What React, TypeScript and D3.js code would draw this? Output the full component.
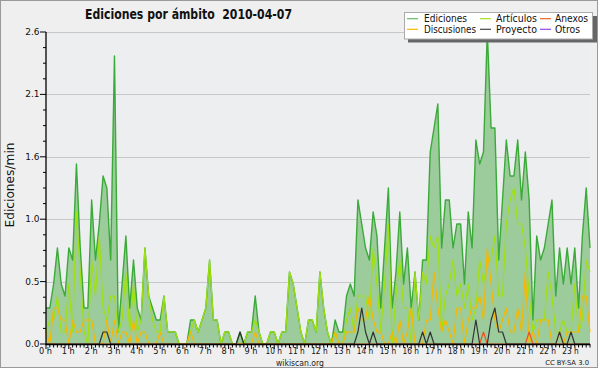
import React from 'react';
import * as d3 from 'd3';

// 10-minute bins, 0:00 .. 23:50 (edits per minute)
const ediciones = [
  0.3,0.3,0.5,0.8,0.5,0.4, 0.8,0.7,1.5,0.8,0.3,0.3,
  1.2,0.7,1.0,1.4,1.3,0.7, 2.4,0.1,0.5,0.9,0.3,0.7,
  0.3,0.2,0.8,0.4,0.3,0.2, 0.2,0.4,0.1,0.1,0.1,0.0,
  0.0,0.0,0.2,0.2,0.1,0.2, 0.3,0.7,0.2,0.2,0.0,0.1,
  0.1,0.0,0.0,0.1,0.0,0.1, 0.1,0.4,0.1,0.0,0.0,0.1,
  0.1,0.0,0.1,0.1,0.6,0.5, 0.3,0.1,0.0,0.2,0.2,0.1,
  0.6,0.3,0.1,0.0,0.2,0.1, 0.1,0.4,0.5,0.4,1.2,1.0,
  0.8,0.7,1.1,0.9,0.3,0.8, 1.3,0.3,0.6,1.1,0.5,0.8,
  0.3,0.6,0.2,0.7,0.7,1.6, 1.8,2.0,0.8,1.2,1.2,0.8,
  1.0,1.0,0.5,1.1,0.8,1.7, 1.5,1.6,2.6,1.8,1.8,0.7,
  1.2,1.7,1.4,1.4,1.7,1.2, 1.6,1.2,0.2,0.9,0.7,0.8,
  1.0,1.2,0.4,0.8,0.5,0.8, 0.5,0.8,0.3,0.9,1.3,0.8,
];
const articulos = [
  0.1,0.2,0.2,0.4,0.1,0.1, 0.5,0.1,1.1,0.6,0.1,0.0,
  0.7,0.4,0.9,0.3,0.2,0.4, 0.4,0.1,0.2,0.6,0.1,0.5,
  0.1,0.2,0.8,0.4,0.2,0.1, 0.1,0.4,0.1,0.1,0.1,0.0,
  0.0,0.0,0.1,0.2,0.1,0.2, 0.3,0.7,0.2,0.2,0.0,0.1,
  0.1,0.0,0.0,0.0,0.0,0.1, 0.1,0.2,0.1,0.0,0.0,0.1,
  0.1,0.0,0.1,0.1,0.6,0.5, 0.3,0.1,0.0,0.2,0.2,0.1,
  0.6,0.3,0.1,0.0,0.1,0.0, 0.0,0.2,0.3,0.1,0.4,0.4,
  0.4,0.2,0.8,0.5,0.1,0.5, 1.0,0.0,0.4,0.7,0.3,0.3,
  0.0,0.6,0.2,0.6,0.5,0.9, 0.8,0.9,0.1,0.4,0.5,0.7,
  0.4,0.5,0.3,0.5,0.2,0.3, 0.7,0.5,0.7,0.7,0.9,0.4,
  0.4,1.0,1.2,1.3,1.0,1.0, 0.8,0.4,0.1,0.2,0.2,0.2,
  0.6,0.4,0.1,0.1,0.2,0.1, 0.1,0.5,0.1,0.2,0.7,0.6,
];
const discusiones = [
  0.1,0,0.3,0.3,0.2,0.2, 0,0.2,0.1,0.1,0.2,0.2,
  0.2,0,0,0,0.2,0, 0.2,0,0.1,0.1,0,0.2,
  0,0.1,0.1,0,0,0, 0.1,0,0,0,0,0,
  0,0,0.1,0,0,0, 0,0,0,0,0,0,
  0,0,0,0,0,0, 0,0.1,0,0,0,0,
  0,0,0,0,0,0, 0,0,0,0,0,0,
  0,0,0,0,0.1,0, 0,0.1,0.1,0.1,0.3,0.2,
  0.2,0.4,0.2,0.1,0.1,0, 0,0.1,0,0.2,0,0.1,
  0.3,0,0,0,0.2,0.2, 0.6,0.3,0.1,0.2,0.1,0,
  0.3,0.3,0,0.2,0.3,0.3, 0.4,0.2,0.8,0.5,0.2,0.1,
  0.2,0.3,0.1,0.1,0.3,0.1, 0.6,0,0.1,0,0.2,0.2,
  0.2,0,0,0.1,0,0.1, 0.1,0.1,0.1,0.4,0.4,0.1,
];
const proyecto = [
  0,0,0,0,0,0, 0,0,0,0,0,0,
  0,0,0,0.1,0.1,0, 0,0,0,0,0,0,
  0,0,0,0,0,0, 0,0,0,0,0,0,
  0,0,0,0,0,0, 0,0,0,0,0,0,
  0,0,0,0.1,0,0, 0,0,0,0,0,0,
  0,0,0,0,0,0, 0,0,0,0,0,0,
  0,0,0,0,0,0, 0,0,0,0,0.1,0.3,
  0.1,0,0.1,0,0,0, 0,0,0,0,0,0,
  0,0,0,0.1,0,0.1, 0,0,0,0,0,0,
  0,0,0,0,0,0.2, 0,0,0,0.2,0.3,0.1,
  0.1,0,0,0,0,0, 0,0,0,0,0,0,
  0,0,0,0.1,0,0, 0.1,0,0,0,0,0,
];
const anexos = [
  0,0,0,0,0,0, 0,0,0,0,0,0,
  0,0,0,0,0,0, 0,0,0,0,0,0,
  0,0,0,0,0,0, 0,0,0,0,0,0,
  0,0,0,0,0,0, 0,0,0,0,0,0,
  0,0,0,0,0,0, 0,0,0,0,0,0,
  0,0,0,0,0,0, 0,0,0,0,0,0,
  0,0,0,0,0,0, 0,0,0,0,0,0,
  0,0,0,0,0,0, 0,0,0,0,0,0,
  0,0,0,0,0,0, 0,0,0,0,0,0,
  0,0,0,0,0,0, 0,0.1,0,0,0,0,
  0,0,0,0,0,0, 0,0.1,0,0,0,0,
  0,0,0,0,0,0, 0,0,0,0,0,0,
];

const hourLabels = [
  '0 h','1 h','2 h','3 h','4 h','5 h','6 h','7 h','8 h','9 h','10 h','11 h',
  '12 h','13 h','14 h','15 h','16 h','17 h','18 h','19 h','20 h','21 h','22 h','23 h',
];
const yTickValues = [0, 0.52, 1.04, 1.56, 2.08, 2.6];
const yTickLabels = ['0.0', '0.5', '1.0', '1.6', '2.1', '2.6'];

const legendItems = [
  { name: 'Ediciones', color: '#66bb66', col: 0, row: 0, w: 43 },
  { name: 'Discusiones', color: '#f5b800', col: 0, row: 1, w: 52 },
  { name: 'Artículos', color: '#a8e020', col: 1, row: 0, w: 41 },
  { name: 'Proyecto', color: '#444444', col: 1, row: 1, w: 41 },
  { name: 'Anexos', color: '#ee6622', col: 2, row: 0, w: 33 },
  { name: 'Otros', color: '#9944ee', col: 2, row: 1, w: 25 },
];

const FONT = '"DejaVu Sans", "Noto Sans", sans-serif';

export default function App() {
  const W = 600, H = 370;
  const x = d3.scaleLinear().domain([0, 143]).range([46, 590]);
  const y = d3.scaleLinear().domain([0, 2.6]).range([344, 32]);

  const area = d3.area<number>().x((_, i) => x(i)).y0(y(0)).y1((d) => y(d));
  const line = d3.line<number>().x((_, i) => x(i)).y((d) => y(d));

  const minorX = d3.range(0, 144);
  const minorY = d3.range(0, 21).map((k) => k * 0.13);

  const legendCols = [407, 480, 540];
  const legendTextX = [424, 496, 555];
  const legendRows = [18.7, 29.3];

  return (
    <svg width={W} height={H} style={{ position: 'absolute', left: 0, top: 0, display: 'block' }} fontFamily={FONT}>
      <rect x={0.5} y={0.5} width={597} height={367} fill="#efefef" stroke="#9a9a9a" />
      <rect x={46} y={32} width={544} height={312} fill="#edeef0" />

      {yTickValues.map((v, k) => (
        <line key={'g' + k} x1={46} x2={590} y1={Math.round(y(v)) + 0.5} y2={Math.round(y(v)) + 0.5} stroke="#c8c8c8" strokeWidth={1.2} />
      ))}

      <path d={area(ediciones) || ''} fill="#9ccb9c" />
      <path d={line(ediciones) || ''} fill="none" stroke="#3aaa38" strokeWidth={1.4} strokeLinejoin="round" />
      <path d={line(articulos) || ''} fill="none" stroke="#a0e010" strokeWidth={1.2} strokeLinejoin="round" />
      <path d={line(discusiones) || ''} fill="none" stroke="#f5b800" strokeWidth={1.2} strokeLinejoin="round" />
      <path d={line(anexos) || ''} fill="none" stroke="#ee5522" strokeWidth={1.2} strokeLinejoin="round" />
      <path d={line(proyecto) || ''} fill="none" stroke="#333333" strokeWidth={1.2} strokeLinejoin="round" />

      {/* axes */}
      <line x1={46} x2={590} y1={344.5} y2={344.5} stroke="#000" strokeWidth={1.3} />
      <line x1={46} x2={46} y1={32} y2={345} stroke="#000" strokeWidth={1.3} />
      {minorX.map((i) => (
        <line key={'mx' + i} x1={x(i)} x2={x(i)} y1={344} y2={i % 6 === 0 ? 349 : 347.5} stroke="#000" strokeWidth={1} />
      ))}
      {minorY.map((v, k) => (
        <line key={'my' + k} x1={k % 4 === 0 ? 40 : 43} x2={46} y1={y(v)} y2={y(v)} stroke="#000" strokeWidth={1} />
      ))}
      {hourLabels.map((lab, h) => (
        <text key={'hl' + h} x={x(h * 6) - 0.5} y={354} fontSize={8.5} textAnchor="middle" fill="#111"
          textLength={lab.length > 3 ? 16.5 : 13} lengthAdjust="spacingAndGlyphs">{lab}</text>
      ))}
      {yTickLabels.map((lab, k) => (
        <text key={'yl' + k} x={39.5} y={y(yTickValues[k]) + 3} fontSize={9} textAnchor="end" fill="#111">{lab}</text>
      ))}

      <text x={14} y={185} fontSize={11.5} textAnchor="middle" transform="rotate(-90 14 185)" fill="#111" textLength={85} lengthAdjust="spacingAndGlyphs">Ediciones/min</text>

      <text x={85} y={19} fontSize={13.5} fontWeight="bold" fill="#111" textLength={207} lengthAdjust="spacingAndGlyphs" style={{ whiteSpace: 'pre' }} xmlSpace="preserve">{'Ediciones por ámbito  2010-04-07'}</text>

      {/* legend */}
      <rect x={408} y={16} width={189} height={26.5} fill="#666" />
      <rect x={404.5} y={12.5} width={188} height={26.5} fill="#ffffff" stroke="#aaaaaa" />
      {legendItems.map((it) => (
        <g key={it.name}>
          <line x1={legendCols[it.col]} x2={legendCols[it.col] + 11} y1={legendRows[it.row]} y2={legendRows[it.row]} stroke={it.color} strokeWidth={1.2} />
          <text x={legendTextX[it.col]} y={legendRows[it.row] + 3.6} fontSize={10} fill="#111" textLength={it.w} lengthAdjust="spacingAndGlyphs">{it.name}</text>
        </g>
      ))}

      <text x={300} y={365.5} fontSize={9} textAnchor="middle" fill="#222" textLength={48} lengthAdjust="spacingAndGlyphs">wikiscan.org</text>
      <text x={589} y={365} fontSize={6.8} textAnchor="end" fill="#222">CC BY-SA 3.0</text>
    </svg>
  );
}
